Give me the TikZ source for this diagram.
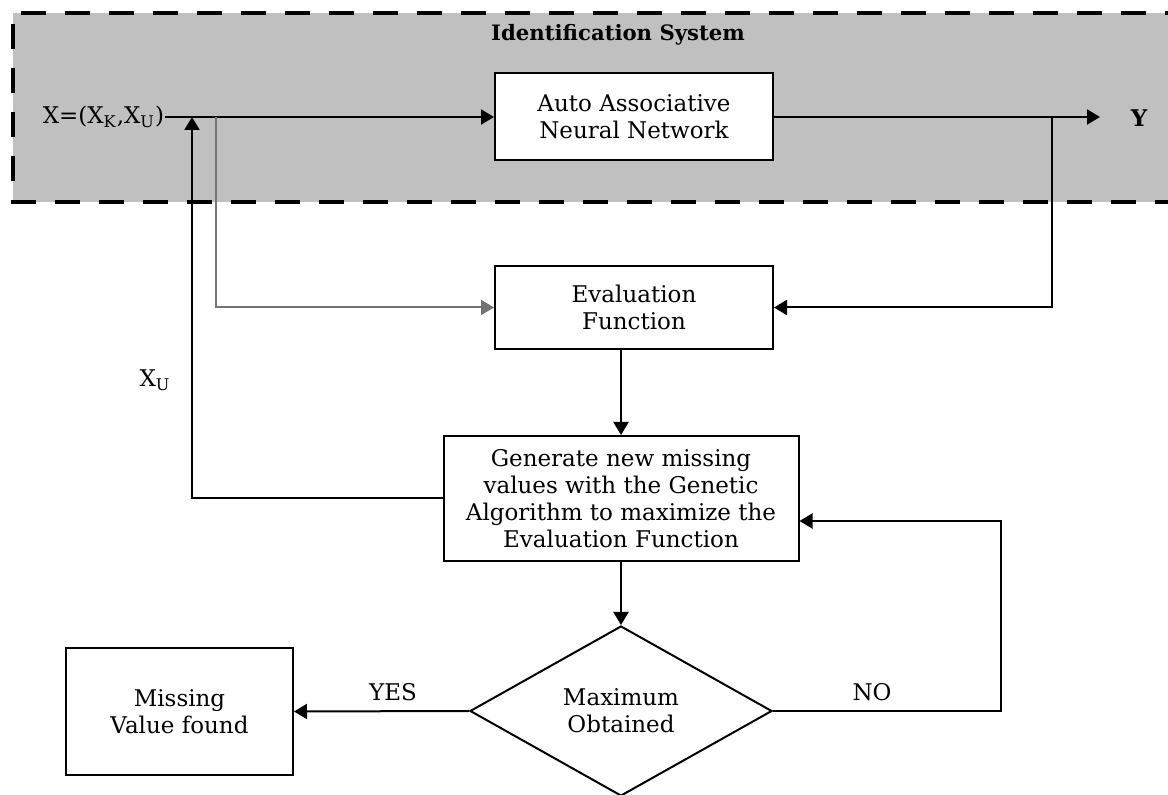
\documentclass[tikz,border=0pt]{standalone}
\usepackage{fontspec}
\setmainfont{DejaVu Serif}
\usetikzlibrary{arrows.meta,shapes.geometric}
\definecolor{idgray}{RGB}{192,192,192}

\begin{document}
\fontsize{11.5}{13.5}\selectfont
\begin{tikzpicture}[x=0.5pt,y=-0.5pt,
  line width=1pt,
  >={Triangle[length=6.5pt,width=7.5pt]},
  box/.style={draw,fill=white,align=center,inner sep=0pt},
  lbl/.style={inner sep=0pt}]

\useasboundingbox (0,0) rectangle (1168,795);
\clip (0,0) rectangle (1168,795);

% Identification system region
\draw[fill=idgray,line width=2pt,dash pattern=on 12.5pt off 9.5pt]
  (1190,13) -- (13,13) -- (13,202) -- (1190,202);
\node[font=\bfseries\fontsize{10.6}{12}\selectfont] (title) at (618,35) {Identification System};

% Blocks
\node[box,minimum width=139pt,minimum height=43.5pt] (aann) at (634,117)
  {Auto Associative\\Neural Network};
\node[box,minimum width=139pt,minimum height=41.5pt] (evalfn) at (634,307.5)
  {Evaluation\\Function};
\node[box,minimum width=177.5pt,minimum height=62.5pt] (genalg) at (621,498.5)
  {Generate new missing\\values with the Genetic\\Algorithm to maximize the\\Evaluation Function};
\node[draw,diamond,fill=white,minimum width=151pt,minimum height=85pt,inner sep=0pt,align=center]
  (maxcheck) at (621,711) {Maximum\\Obtained};
\node[box,minimum width=113.5pt,minimum height=63.5pt] (found) at (179.5,711.5)
  {Missing\\Value found};

% Labels
\node[lbl,anchor=east] (xin) at (165,117) {X=(X\textsubscript{K},X\textsubscript{U})};
\node[lbl,font=\bfseries] (yout) at (1139,118) {Y};
\node[lbl] (xu) at (155,380) {X\textsubscript{U}};
\node[lbl] (yes) at (393,692) {YES};
\node[lbl] (no) at (872,692) {NO};

% Connector corners
\coordinate (xback) at (192,117);
\coordinate (xtap) at (216,117);
\coordinate (ytap) at (1052,117);
\coordinate (ytip) at (1100,117);
\coordinate (noturn) at (1001,521);

% Connectors
\draw[->] (xin.east) -- (aann.west);
\draw[->] (aann.east) -- (ytip);
\draw[->,draw=black!55] (xtap) |- (evalfn.west);
\draw[->] (ytap) |- (evalfn.east);
\draw[->] (genalg.north |- evalfn.south) -- (genalg.north);
\draw[->] (genalg.west) -| (xback);
\draw[->] (genalg.south) -- (maxcheck.north);
\draw[->] (maxcheck.west) -- (found.east);
\draw[->] (maxcheck.east) -| (noturn) -- (noturn -| genalg.east);

\end{tikzpicture}
\end{document}
